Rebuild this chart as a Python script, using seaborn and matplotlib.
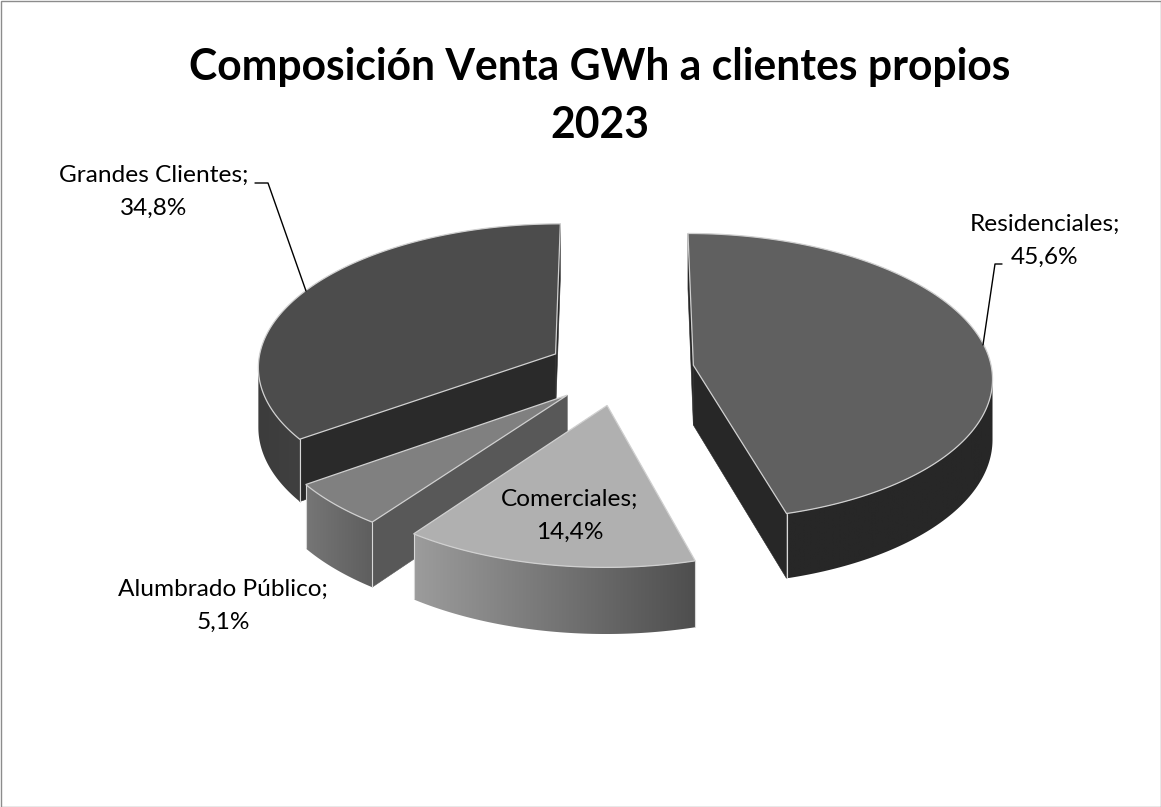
import numpy as np
import matplotlib
matplotlib.use("Agg")
import matplotlib.pyplot as plt
import seaborn as sns
from matplotlib.patches import Polygon, Rectangle

# datos
categories = ['Residenciales', 'Comerciales', 'Alumbrado Público', 'Grandes Clientes']
shares = [45.6, 14.4, 5.1, 34.8]
share_labels = ['45,6%', '14,4%', '5,1%', '34,8%']
title_lines = ['Composición Venta GWh a clientes propios', '2023']

# estilo de cada porcion: superficie, paredes de corte, pared exterior (izq, der)
top_colors = ['#606060', '#b0b0b0', '#808080', '#4c4c4c']
cut_colors = ['#272727', '#3a3a3a', '#585858', '#2a2a2a']
rim_colors = [('#272727', '#272727'), ('#9c9c9c', '#4e4e4e'), ('#767676', '#5e5e5e'), ('#3c3c3c', '#404040')]
label_pos = [(1045, 241), (570, 516), (223, 606), (154, 192)]

# geometria de la vista
CX, CY = 620.5, 370
RX, RY = 298.5, 143
PERSP = 0.08
DEPTH = 60
EXPLODE = 0.247


def project(X, Y):
    w = 1 / (1 + PERSP * Y)
    return CX + RX * X * w, CY - RY * Y * w, DEPTH * w


sns.set_theme(style="white")
plt.rcParams['font.family'] = ['Lato', 'DejaVu Sans']

fig, ax = plt.subplots(figsize=(11.61, 8.07), dpi=100)
ax.set_position([0, 0, 1, 1])
ax.axis('off')
ax.add_patch(Rectangle((0.5, 0.5), 1160, 806, fill=False, ec='#8c8c8c', lw=1))

# angulos en sentido horario desde arriba
fractions = np.array(shares) / np.sum(shares) * 360
ends = np.cumsum(fractions)
starts = ends - fractions


def wall(p, q, color, z):
    quad = [(p[0], p[1]), (q[0], q[1]), (q[0], q[1] + q[2]), (p[0], p[1] + p[2])]
    ax.add_patch(Polygon(quad, closed=True, fc=color, ec=color, lw=0.4, zorder=z))


def gradient_wall(points, colors, z):
    upper = [(p[0], p[1]) for p in points]
    lower = [(p[0], p[1] + p[2]) for p in reversed(points)]
    outline = np.array(upper + lower)
    clip = Polygon(outline, closed=True, fc='none', ec='none', transform=ax.transData)
    ax.add_patch(clip)
    cmap = sns.blend_palette(colors, as_cmap=True)
    extent = [outline[:, 0].min(), outline[:, 0].max(), outline[:, 1].max(), outline[:, 1].min()]
    im = ax.imshow(np.linspace(0, 1, 256)[None, :], extent=extent, aspect='auto', cmap=cmap, zorder=z)
    im.set_clip_path(clip)


slices = []
for i in range(len(categories)):
    mid = np.radians((starts[i] + ends[i]) / 2)
    ox, oy = EXPLODE * np.sin(mid), EXPLODE * np.cos(mid)
    slices.append((oy, i, ox))

# de atras hacia adelante
slices.sort(key=lambda s: -s[0])
for order, (oy, i, ox) in enumerate(slices):
    base = 10 * order
    ang = np.radians(np.linspace(starts[i], ends[i], 160))
    apex = project(ox, oy)
    rim = [project(ox + np.sin(a), oy + np.cos(a)) for a in ang]

    # paredes de corte visibles cuando el borde va hacia la izquierda
    if rim[0][0] < apex[0]:
        wall(apex, rim[0], cut_colors[i], base + 1)
    if apex[0] < rim[-1][0]:
        wall(rim[-1], apex, cut_colors[i], base + 1)

    # pared exterior con degradado
    visible = [k for k in range(len(rim) - 1) if rim[k + 1][0] < rim[k][0]]
    if visible:
        points = [rim[k] for k in visible] + [rim[visible[-1] + 1]]
        # el degradado va de izquierda a derecha
        gradient_wall(points, rim_colors[i], base + 2)
        # aristas solo en las esquinas de la porcion
        for k in (0, len(rim) - 1):
            if k in visible or k - 1 in visible:
                ax.plot([rim[k][0], rim[k][0]], [rim[k][1], rim[k][1] + rim[k][2]], color='#d8d8d8', lw=0.8, zorder=base + 3)

    outline = [(apex[0], apex[1])] + [(r[0], r[1]) for r in rim]
    ax.add_patch(Polygon(outline, closed=True, fc=top_colors[i], ec='#d0d0d0', lw=0.9, joinstyle='miter', zorder=base + 4))

# lineas guia
ax.plot([255, 268, 306], [183, 183, 291], color='black', lw=1, zorder=80)
ax.plot([1002, 995, 983], [264, 264, 345], color='black', lw=1, zorder=80)

for i, name in enumerate(categories):
    ax.text(label_pos[i][0], label_pos[i][1], f'{name};\n{share_labels[i]}', ha='center', va='center',
            fontsize=17.6, linespacing=1.68, color='black', zorder=90)

ax.text(600, 96, '\n'.join(title_lines), ha='center', va='center', fontsize=30.7, fontweight='bold',
        linespacing=1.55, color='black', zorder=90)

ax.set_xlim(0, 1161)
ax.set_ylim(807, 0)
fig.savefig('out.png', dpi=100)
